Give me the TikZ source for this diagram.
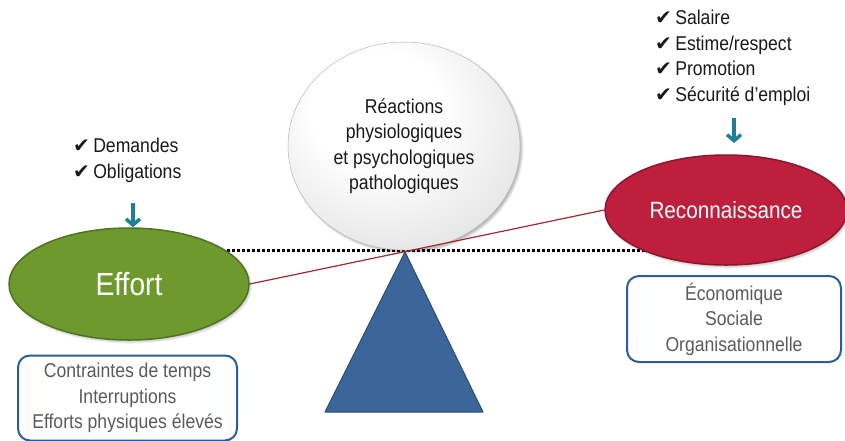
\documentclass[tikz,border=0pt]{standalone}
\usepackage{fontspec}
\setmainfont{Liberation Sans}[FakeStretch=0.88]
\newfontfamily\checkfont{DejaVu Sans}
\usetikzlibrary{positioning, calc}
\usetikzlibrary{arrows.meta}
\usetikzlibrary{shapes.geometric}
\usetikzlibrary{shadows.blur}
\definecolor{effortgreen}{HTML}{6E9A2D}
\definecolor{effortdark}{HTML}{4E7222}
\definecolor{recored}{HTML}{BE1F3D}
\definecolor{recodark}{HTML}{8C1530}
\definecolor{pivotblue}{HTML}{3C6699}
\definecolor{pivotdark}{HTML}{2A4A72}
\definecolor{boxblue}{HTML}{2E5C97}
\definecolor{arrowteal}{HTML}{1F7E99}
\definecolor{beamred}{HTML}{A3282D}
\definecolor{boxtext}{HTML}{5A5A5A}
\newcommand{\chk}{{\checkfont\fontsize{20}{20}\selectfont\char"2714}\,}
\pgfdeclareradialshading{bubble}{\pgfpoint{-8bp}{12bp}}{%
  color(0bp)=(white); color(14bp)=(white); color(32bp)=(black!10);
  color(46bp)=(black!28); color(56bp)=(black!36)}

\begin{document}
\begin{tikzpicture}[x=1pt, y=-1pt, line cap=round, line join=round,
  txt/.style={font=\fontsize{20}{25.5}\selectfont, text=black!90},
  blob/.style={ellipse, inner sep=0pt, line width=1.5pt, text=white,
    blur shadow={shadow xshift=1.5pt, shadow yshift=-2pt, shadow opacity=25}},
  infobox/.style={draw=boxblue, line width=2pt, rounded corners=12pt, align=center,
    inner sep=0pt, font=\fontsize{20}{25.5}\selectfont, text=boxtext},
  pushdown/.style={draw=arrowteal, line width=3.5pt, line cap=butt,
    -{Straight Barb[length=6pt, width=14pt, line width=3.5pt]}}]

\useasboundingbox (0,0) rectangle (845,440);

% --- Fleau (pointilles et ligne inclinee) ---
\coordinate (beamL) at (227,250);
\coordinate (beamR) at (650,250);
\draw[line width=3pt, dash pattern=on 2.5pt off 2.5pt, line cap=butt] (beamL) -- (beamR);

% --- Pivot ---
\coordinate (apex) at (405,252);
\draw[fill=pivotblue, draw=pivotdark, line width=1pt] (apex) -- (483,412) -- (325,412) -- cycle;

% --- Bulle centrale ---
\node[ellipse, minimum width=232, minimum height=208, inner sep=0pt,
  shading=bubble, draw=black!28, line width=0.5pt,
  blur shadow={shadow xshift=2pt, shadow yshift=-2pt, shadow opacity=30},
  align=center, txt] (reactions) at (404,146)
  {R\'eactions\\physiologiques\\et psychologiques\\pathologiques};

% --- Ellipses ---
\node[blob, fill=effortgreen, draw=effortdark, minimum width=240, minimum height=112,
  font=\fontsize{32}{32}\selectfont] (effort) at (129,284) {Effort};
\node[blob, fill=recored, draw=recodark, minimum width=242, minimum height=110,
  font=\fontsize{23.5}{23.5}\selectfont] (reco) at (726,210) {Reconnaissance};

\draw[beamred, line width=1.2pt] (effort.east) -- (reco.west);

% --- Listes ---
\node[txt, align=left, anchor=west, inner sep=0pt] (effortlist) at (73,160.5)
  {\chk Demandes\\\chk Obligations};
\node[txt, align=left, anchor=west, inner sep=0pt] (recolist) at (655,58)
  {\chk Salaire\\\chk Estime/respect\\\chk Promotion\\\chk S\'ecurit\'e d'emploi};

\coordinate (effortin) at (133,203);
\coordinate (recoin) at (734,118);
\coordinate (recoend) at (734,143);
\draw[pushdown] (effortin) -- (effortin |- effort.north);
\draw[pushdown] (recoin) -- (recoend);

% --- Cadres ---
\node[infobox, minimum width=219, minimum height=85] (effortbox) at (127.5,398)
  {Contraintes de temps\\Interruptions\\Efforts physiques \'elev\'es};
\node[infobox, minimum width=214, minimum height=86] (recobox) at (734,319)
  {\'Economique\\Sociale\\Organisationnelle};
\end{tikzpicture}
\end{document}
